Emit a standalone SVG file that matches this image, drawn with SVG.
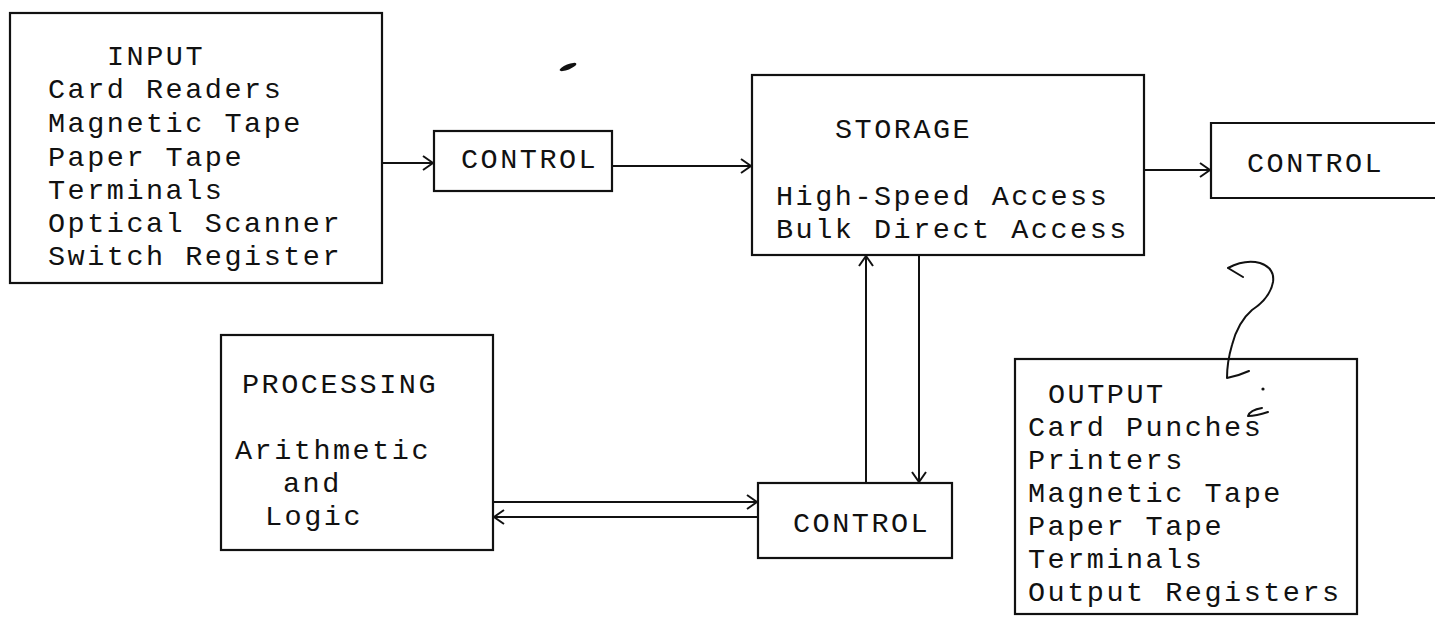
<svg xmlns="http://www.w3.org/2000/svg" width="1435" height="619" viewBox="0 0 1435 619">
<defs>
<style>
.box{fill:none;stroke:#111;stroke-width:2.2}
.ln{fill:none;stroke:#111;stroke-width:2}
.t{font-family:"Liberation Mono","DejaVu Sans Mono",monospace;font-size:28.5px;letter-spacing:2.5px;fill:#111}
.pen{fill:none;stroke:#111;stroke-width:2;stroke-linecap:round;stroke-linejoin:round}
</style>
<marker id="ah" viewBox="0 0 12 16" refX="11" refY="8" markerWidth="12" markerHeight="16" markerUnits="userSpaceOnUse" orient="auto">
<path d="M1,1 L11,8 L1,15" fill="none" stroke="#111" stroke-width="2"/>
</marker>
</defs>
<rect width="1435" height="619" fill="#fff"/>

<g id="input">
<rect class="box" x="10" y="13" width="372" height="270"/>
<text class="t" x="107" y="65">INPUT</text>
<text class="t" x="48" y="98">Card Readers</text>
<text class="t" x="48" y="132">Magnetic Tape</text>
<text class="t" x="48" y="166">Paper Tape</text>
<text class="t" x="48" y="199">Terminals</text>
<text class="t" x="48" y="232">Optical Scanner</text>
<text class="t" x="48" y="265">Switch Register</text>
</g>

<g id="control-in">
<rect class="box" x="434" y="131" width="178" height="60"/>
<text class="t" x="461" y="168">CONTROL</text>
</g>

<g id="storage">
<rect class="box" x="752" y="75" width="392" height="180"/>
<text class="t" x="835" y="138">STORAGE</text>
<text class="t" x="776" y="205">High-Speed Access</text>
<text class="t" x="776" y="238">Bulk Direct Access</text>
</g>

<g id="control-out">
<path class="box" d="M1440,123 L1211,123 L1211,198 L1440,198"/>
<text class="t" x="1247" y="172">CONTROL</text>
</g>

<g id="processing">
<rect class="box" x="221" y="335" width="272" height="215"/>
<text class="t" x="242" y="393">PROCESSING</text>
<text class="t" x="235" y="459">Arithmetic</text>
<text class="t" x="283" y="492">and</text>
<text class="t" x="265" y="525">Logic</text>
</g>

<g id="control-proc">
<rect class="box" x="758" y="483" width="194" height="75"/>
<text class="t" x="793" y="532">CONTROL</text>
</g>

<g id="output">
<rect class="box" x="1015" y="359" width="342" height="255"/>
<text class="t" x="1048" y="403">OUTPUT</text>
<text class="t" x="1028" y="436">Card Punches</text>
<text class="t" x="1028" y="469">Printers</text>
<text class="t" x="1028" y="502">Magnetic Tape</text>
<text class="t" x="1028" y="535">Paper Tape</text>
<text class="t" x="1028" y="568">Terminals</text>
<text class="t" x="1028" y="601">Output Registers</text>
</g>

<g id="connectors">
<line class="ln" x1="382" y1="163" x2="433" y2="163" marker-end="url(#ah)"/>
<line class="ln" x1="612" y1="166" x2="751" y2="166" marker-end="url(#ah)"/>
<line class="ln" x1="1144" y1="170" x2="1210" y2="170" marker-end="url(#ah)"/>
<line class="ln" x1="866" y1="483" x2="866" y2="256" marker-end="url(#ah)"/>
<line class="ln" x1="919" y1="255" x2="919" y2="482" marker-end="url(#ah)"/>
<line class="ln" x1="493" y1="502" x2="757" y2="502" marker-end="url(#ah)"/>
<line class="ln" x1="758" y1="517" x2="494" y2="517" marker-end="url(#ah)"/>
</g>

<g id="marks">
<path class="pen" d="M1228,268 L1243,277 M1228,268 Q1245,259 1260,263 Q1275,268 1273,282 Q1270,298 1252,310 Q1238,322 1232,345 Q1227,362 1227,378 Q1238,376 1249,371"/>
<ellipse cx="568" cy="67" rx="9" ry="2.6" transform="rotate(-22 568 67)" fill="#111"/>
<path class="pen" d="M1262,408 Q1250,410 1248,416 Q1256,416 1268,412" stroke-width="1.4"/>
<circle cx="1263" cy="389" r="1.6" fill="#111"/>
</g>
</svg>
